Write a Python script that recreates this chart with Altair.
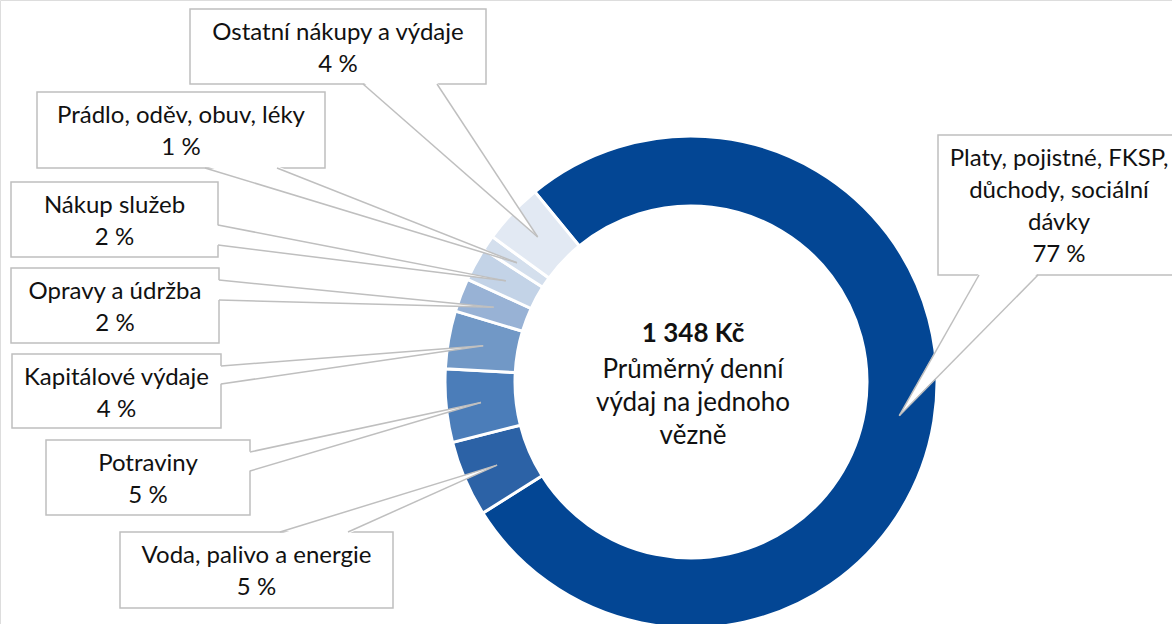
import math
import altair as alt
import pandas as pd

# ---------------- data ----------------
categories = [
    "Platy, pojistné, FKSP,\ndůchody, sociální\ndávky",
    "Voda, palivo a energie",
    "Potraviny",
    "Kapitálové výdaje",
    "Opravy a údržba",
    "Nákup služeb",
    "Prádlo, oděv, obuv, léky",
    "Ostatní nákupy a výdaje",
]
values = [77.0, 5.0, 4.8, 3.8, 2.2, 2.2, 1.0, 4.0]
pct_labels = ["77 %", "5 %", "5 %", "4 %", "2 %", "2 %", "1 %", "4 %"]
colors = ["#034694", "#2C62A6", "#4B7DB9", "#7198C6", "#98B2D5", "#C3D3E7", "#D4DFED", "#E2E9F3"]
center_value = "1 348 Kč"
center_caption = "Průměrný denní\nvýdaj na jednoho\nvězně"

# ---------------- layout ----------------
W, H = 1172, 624
CX, CY = 691, 382
R_OUT, R_IN = 246, 176
START_DEG = 320.6
GRAY = "#BFBFBF"
FONT = "Lato"
FS = 24
FS_CENTER = 26
LH = 32
# label boxes: left, top, right, bottom
boxes = [
    (938, 135, 1180, 275),
    (120, 532, 393, 608),
    (46, 440, 250, 515),
    (12, 354, 221, 428),
    (11, 268, 219, 343),
    (11, 182, 218, 257),
    (37, 92, 325, 168),
    (190, 9, 486, 84),
]
# callout base: (edge, fixed coordinate, a, b)
bases = [
    ("bottom", 275, 979, 1038),
    ("top", 532, 280, 348),
    ("right", 250, 452, 471),
    ("right", 221, 366, 384),
    ("right", 219, 280, 300),
    ("right", 218, 225, 245),
    ("bottom", 168, 205, 277),
    ("bottom", 84, 363, 437),
]

# tips at the middle of each slice
total = sum(values)
tips = []
cum = 0.0
r_mid = (R_OUT + R_IN) / 2
for v in values:
    ang = math.radians(START_DEG + 360 * (cum + v / 2) / total)
    tips.append((CX + r_mid * math.sin(ang), CY - r_mid * math.cos(ang)))
    cum += v

slices = pd.DataFrame({"cat": categories, "value": values, "idx": list(range(len(values)))})

box_rows, text_rows, rule_rows, harea, varea = [], [], [], [], []
for i, (b, base, tip) in enumerate(zip(boxes, bases, tips)):
    l, t, r, btm = b
    box_rows.append({"x": l, "x2": r, "y": t, "y2": btm})
    text_rows.append({"x": (l + r) / 2, "y": t + 31, "label": categories[i] + "\n" + pct_labels[i]})
    edge, fixed, a, bb = base
    tx, ty = tips[i]
    if edge in ("bottom", "top"):
        inset = -2 if edge == "bottom" else 2
        harea.append({"id": i, "y": fixed + inset, "xa": a, "xb": bb})
        harea.append({"id": i, "y": ty, "xa": tx, "xb": tx})
        rule_rows.append({"x": a, "y": fixed, "x2": tx, "y2": ty})
        rule_rows.append({"x": bb, "y": fixed, "x2": tx, "y2": ty})
    else:
        varea.append({"id": i, "x": fixed - 2, "ya": a, "yb": bb})
        varea.append({"id": i, "x": tx, "ya": ty, "yb": ty})
        rule_rows.append({"x": fixed, "y": a, "x2": tx, "y2": ty})
        rule_rows.append({"x": fixed, "y": bb, "x2": tx, "y2": ty})

xs = alt.Scale(domain=[0, W], range=[0, W])
ys = alt.Scale(domain=[0, H], range=[0, H])

TWO_PI = 2 * math.pi
start_rad = math.radians(START_DEG)

donut = alt.Chart(slices).mark_arc(
    outerRadius=R_OUT, innerRadius=R_IN, stroke="white", strokeWidth=3
).encode(
    theta=alt.Theta("value:Q", stack=True, scale=alt.Scale(range=[start_rad, start_rad + TWO_PI])),
    color=alt.Color("cat:N", scale=alt.Scale(domain=categories, range=colors), legend=None),
    order=alt.Order("idx:Q"),
    x=alt.value(CX),
    y=alt.value(CY),
)

box_layer = alt.Chart(pd.DataFrame(box_rows)).mark_rect(
    fill="white", stroke=GRAY, strokeWidth=1.5
).encode(
    x=alt.X("x:Q", scale=xs, axis=None), x2="x2:Q",
    y=alt.Y("y:Q", scale=ys, axis=None), y2="y2:Q",
)

h_wedges = alt.Chart(pd.DataFrame(harea)).mark_area(
    orient="horizontal", fill="white", opacity=1
).encode(
    y=alt.Y("y:Q", scale=ys, axis=None),
    x=alt.X("xa:Q", scale=xs, axis=None), x2="xb:Q",
    detail="id:N",
)

v_wedges = alt.Chart(pd.DataFrame(varea)).mark_area(
    orient="vertical", fill="white", opacity=1
).encode(
    x=alt.X("x:Q", scale=xs, axis=None),
    y=alt.Y("ya:Q", scale=ys, axis=None), y2="yb:Q",
    detail="id:N",
)

rules = alt.Chart(pd.DataFrame(rule_rows)).mark_rule(
    stroke=GRAY, strokeWidth=1.5
).encode(
    x=alt.X("x:Q", scale=xs, axis=None), x2="x2:Q",
    y=alt.Y("y:Q", scale=ys, axis=None), y2="y2:Q",
)

labels = alt.Chart(pd.DataFrame(text_rows)).mark_text(
    font=FONT, fontSize=FS, lineHeight=LH, lineBreak="\n", align="center",
    baseline="alphabetic", color="#111111"
).encode(
    x=alt.X("x:Q", scale=xs, axis=None),
    y=alt.Y("y:Q", scale=ys, axis=None),
    text="label:N",
)

center_df = pd.DataFrame({"x": [CX + 2], "y": [342], "t": [center_value]})
center_bold = alt.Chart(center_df).mark_text(
    font=FONT, fontSize=FS_CENTER, fontWeight="bold", align="center", baseline="alphabetic", color="#111111"
).encode(
    x=alt.X("x:Q", scale=xs, axis=None), y=alt.Y("y:Q", scale=ys, axis=None), text="t:N"
)
cap_df = pd.DataFrame({"x": [CX + 2], "y": [378], "t": [center_caption]})
center_cap = alt.Chart(cap_df).mark_text(
    font=FONT, fontSize=FS_CENTER, lineHeight=33, lineBreak="\n", align="center",
    baseline="alphabetic", color="#111111"
).encode(
    x=alt.X("x:Q", scale=xs, axis=None), y=alt.Y("y:Q", scale=ys, axis=None), text="t:N"
)

chart = alt.layer(
    donut, box_layer, h_wedges, v_wedges, rules, labels, center_bold, center_cap
).properties(
    width=W, height=H, padding=0, autosize=alt.AutoSizeParams(type="none")
).configure_view(stroke=None).configure(background="white")

chart.save("out.html", embed_options={"renderer": "svg", "actions": False})
